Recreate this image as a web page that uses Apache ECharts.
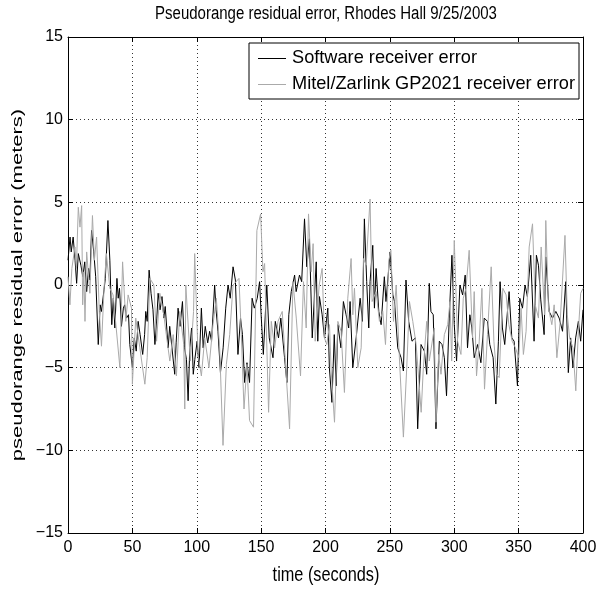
<!DOCTYPE html>
<html>
<head>
<meta charset="utf-8">
<script src="https://cdn.jsdelivr.net/npm/echarts@6/dist/echarts.min.js"></script>
<style>html,body{margin:0;padding:0;background:#fff}#c{width:596px;height:591px}</style>
</head>
<body>
<div id="c"></div>
<script>
var titleText = 'Pseudorange residual error, Rhodes Hall 9/25/2003';
var xName = 'time (seconds)';
var yName = 'pseudorange residual error (meters)';
var seriesNames = ['Software receiver error', 'Mitel/Zarlink GP2021 receiver error'];
var xTicks = [0, 50, 100, 150, 200, 250, 300, 350, 400];
var yTicks = [-15, -10, -5, 0, 5, 10, 15];

var swTime = [0,1.6,2.5,4,5.5,6.7,8,10,11.5,13,14.5,16,17,18.3,20,21.5,23.5,25,26,27.5,29,31,32.5,34,35.2,36.4,38,39,40,41.5,43,44,45.5,47,48,50,51.5,53,54.5,56,58,59.5,60.4,61.5,63,64.5,66,67.5,69,70,71.5,73,74.5,75.5,77.8,79,80.5,82.9,84,85.5,87,88.9,90.5,92,93.3,94.6,96,97.3,98.5,100.3,101.8,103.6,105,106.6,108.5,110,111.5,113.9,115,116.5,118.4,120.5,122.5,124.3,126,128.2,130,132,134,135.5,137.2,139,141,143,144.7,147,148.8,150,151.7,154.4,156.3,159.2,161,163.5,165.3,168.2,170,171.5,173.4,176,177.2,179.8,181.5,183.7,185.5,187.5,189.7,192.8,194,195.3,197.4,199.2,201.8,203,205,206.8,208.3,209.6,212,213.9,216,218,219.1,221.2,223.8,226.9,228.7,230.2,232,233.6,234.6,236.7,238,239.3,241.4,243.2,245.7,247,250.2,252.3,253.6,256.1,258.7,260.5,262.5,264.6,267.2,269.8,271.6,274.2,276.8,278.6,280.6,281.9,283.7,285.8,288.4,290.5,292.3,294,296.1,298.2,300,301.8,304.4,306.5,308.5,310.3,312.1,313.7,315.5,318.1,320.7,323.3,325.8,327.6,330.2,332.3,334.3,335.6,337.4,339.2,342.6,344.7,346.5,349.1,350.9,353,355,356.8,359.4,362,363.8,365.4,367.2,369.8,371.1,373.7,376.3,378.9,381.5,384.1,386.6,388.6,390.4,392.2,394.3,396.4,398.2,400];
var swError = [1.5,2.9,2.0,2.9,1.5,0.1,1.9,1.2,0.5,1.4,-0.4,1.0,0.3,3.3,2.0,0.5,-3.6,-1.2,-1.6,-0.6,0.4,3.9,1.5,-2.4,-0.8,-2.6,0.4,-0.8,-0.2,-2.5,-1.4,-1.2,-2.0,-1.8,-3.6,-5.0,-3.2,-4.0,-2.2,-3.0,-4.2,-3.0,-1.6,-2.2,0.9,-0.5,-1.5,-3.6,-2.0,-0.5,-1.5,-0.7,-2.0,-1.3,-3.8,-2.5,-2.4,-5.4,-3.5,-1.4,-2.5,-1.0,-3.8,-4.5,-7.0,-3.8,-2.6,-5.4,-4.5,-3.4,-5.0,-1.4,-3.8,-2.5,-3.5,-2.8,-3.4,0.0,-1.5,-2.8,-5.3,-3.8,-1.4,0.0,-0.8,1.1,0.3,-4.2,-2.0,-3.0,-5.9,-4.7,-5.9,-0.8,-1.4,-0.8,0.2,-1.8,-4.2,0.0,-3.2,-4.4,-2.2,-3.2,-2.0,-4.4,-5.9,-1.8,-0.4,0.6,-0.4,0.6,0.2,4.0,1.1,2.8,-3.2,1.4,-3.4,-0.7,-1.8,-3.2,-1.4,-5.0,-7.1,-3.0,-6.1,-2.4,-3.8,-1.0,-1.8,-2.6,-1.0,-5.0,-3.2,-0.8,-2.2,4.0,0.2,-2.6,0.2,2.4,-1.4,1.0,-1.6,-2.4,0.5,-1.0,2.0,-0.6,-1.0,-3.8,-4.4,-5.2,0.3,-2.2,-3.4,-3.2,-8.7,-3.6,-4.0,-5.4,0.1,-1.6,-1.8,-8.7,-3.4,-3.6,-4.4,-6.7,-2.0,1.8,-2.4,-4.6,0.0,-0.6,0.6,-3.8,-1.8,-2.6,-4.4,-3.6,-4.7,-2.0,-2.2,-3.6,-4.4,-7.2,-3.4,0.2,-2.6,-3.6,-0.4,-3.2,-3.4,-6.1,-0.8,-1.4,0.0,-0.7,1.8,-3.4,1.8,1.2,-0.9,-3.0,1.7,-1.6,-2.0,-1.6,-2.0,-2.8,0.2,-5.3,-3.2,-5.0,-3.2,-2.2,-3.4,-1.5];

var gpTime = [0,1.5,3,5.4,6.5,8,9.3,10.6,11.4,12.3,13.2,14.5,16,17,19,20.5,22.2,24.3,26,28,29.8,32.5,35,37.2,40.3,42.4,44.9,46.7,49.3,50,52.6,55.8,59.7,61.5,63.6,66.7,68.8,71.3,74.4,76,79.1,81.7,84.2,86.8,89.9,90.7,91.5,95,97.5,98.4,101,103.6,106.2,109.5,112.6,115.2,117.8,120.4,123,125.6,128.2,132.8,134.6,136.7,139,141,144.1,146.7,149.6,151.4,152.7,155.8,157.9,160.5,163.1,166.4,172.1,174.7,177.3,180.6,182.9,185,186.8,188.9,190.4,192,195.1,197.4,199.2,201,203.1,204.4,207,209.6,212.1,214.7,217.3,219.9,221.2,222.5,225.1,227.7,229.5,231.6,234.6,236.2,239.3,241.9,244.5,246.6,249.2,250.8,252.8,254.9,257.5,260.5,263.1,265.2,267.8,270.4,273,274.3,276,278.6,280.6,284.5,285.8,287.9,289.7,292.3,294.9,296.7,298,300,302.6,305.2,307,309.1,311.6,314.2,315.5,317.3,319.4,321.5,323.5,325.8,328.7,330.8,332.8,334.9,337.7,340.3,342.4,345,347.5,350.1,351.9,353.7,355.8,358.2,360.8,362.9,365.4,367.5,370.2,371.1,373.2,375.8,377.6,379.7,382.3,386,387.8,389.6,392.2,394.4,396.4,398.2,400];
var gpError = [0.5,-1.2,1.0,2.3,1.0,4.7,3.5,4.8,-1.2,0.8,-2.2,2.0,0.5,-0.5,4.2,1.5,2.9,-1.6,-3.7,-0.2,1.9,-0.2,-0.6,-2.4,-5.0,1.4,-2.2,-0.6,-1.4,-6.0,-2.0,-3.8,-6.0,-4.4,0.4,0.0,-3.4,-0.5,-1.8,-2.8,-4.6,-3.0,-5.5,-1.6,-3.6,-7.5,0.0,-4.6,-1.6,1.9,-4.2,-5.5,-3.2,-5.0,-2.4,-0.8,-3.8,-9.7,-4.8,-3.0,0.0,0.4,-3.0,-7.5,-4.8,-8.2,-8.6,3.3,4.3,0.8,1.3,-7.7,-2.2,-3.8,-2.2,-1.6,-8.7,0.2,-2.0,-5.5,0.2,-2.6,4.3,0.8,2.5,-3.4,0.0,1.0,-3.2,-3.6,-2.4,-5.2,-8.3,-2.2,-2.8,-6.5,-0.8,1.6,-1.8,-0.2,-5.0,-3.8,1.6,1.2,5.2,-1.0,-0.4,-2.2,-1.6,-3.6,1.5,2.1,-2.2,0.0,-4.6,-9.2,-5.0,-1.0,-2.2,-3.6,-6.3,-7.7,-5.0,-2.2,-4.6,-2.6,-8.3,-4.2,-5.4,-3.0,-2.4,-1.0,-4.6,2.7,-3.4,-4.2,-0.8,-0.2,2.1,-3.2,-0.4,-5.5,-3.4,-0.2,-6.3,-3.0,1.1,-3.4,-5.4,-5.6,-0.2,-0.6,-2.4,-3.4,-3.8,-4.4,-1.4,-4.2,-2.8,2.3,3.7,-1.2,-2.0,2.3,-1.8,3.9,-1.4,-2.4,-1.2,-4.4,-2.2,3.0,-1.8,-3.2,-3.8,-6.4,-2.8,-0.5,-0.2];

function pairs(t, v) { return t.map(function (x, i) { return [x, v[i]]; }); }
function fmt(v) { return String(v).replace('-', '\u2212'); }

var FONT = 'Liberation Sans';
var LINE_ICON = 'path://M0,-7L0.001,-7M0,7L0.001,7M0,0L28,0L28,1L0,1Z';
var chart = echarts.init(document.getElementById('c'), null, { renderer: 'canvas' });

var gridLine = { show: true, lineStyle: { color: '#333', type: [1, 3], width: 1 } };
var baseX = {
  type: 'value', min: xTicks[0], max: xTicks[xTicks.length - 1], interval: 50,
  axisLine: { show: true, onZero: false, lineStyle: { color: '#000', width: 1 } },
  axisTick: { show: true, inside: true, length: 5, lineStyle: { color: '#000' } }
};
var baseY = {
  type: 'value', min: yTicks[0], max: yTicks[yTicks.length - 1], interval: 5,
  axisLine: { show: true, onZero: false, lineStyle: { color: '#000', width: 1 } },
  axisTick: { show: true, inside: true, length: 5, lineStyle: { color: '#000' } }
};

chart.setOption({
  animation: false,
  backgroundColor: '#fff',
  textStyle: { fontFamily: FONT },
  grid: { left: 68, right: 13, top: 37, bottom: 58, show: false, outerBoundsMode: 'none', containLabel: false },
  legend: {
    orient: 'vertical', left: 249, top: 43,
    data: [
      { name: seriesNames[0], icon: LINE_ICON, itemStyle: { color: '#000' } },
      { name: seriesNames[1], icon: LINE_ICON, itemStyle: { color: '#aaa' } }
    ],
    backgroundColor: '#fff', borderColor: '#000', borderWidth: 1,
    padding: [6, 4, 6, 9], itemGap: 8, itemWidth: 28, itemHeight: 14,
    textStyle: { fontFamily: FONT, fontSize: 18.2, color: '#000', padding: [0, 0, 0, 1] }
  },
  graphic: [
    {
      type: 'text', x: 326, y: 14, scaleY: 1.2,
      style: { text: titleText, fill: '#000', font: '15px "Liberation Sans"', align: 'center', verticalAlign: 'middle' }
    },
    {
      type: 'text', x: 326, y: 575, scaleY: 1.25,
      style: { text: xName, fill: '#000', font: '16.3px "Liberation Sans"', align: 'center', verticalAlign: 'middle' }
    },
    {
      type: 'text', x: 18, y: 285, rotation: Math.PI / 2, scaleX: 1.42,
      style: { text: yName, fill: '#000', font: '15.5px "Liberation Sans"', align: 'center', verticalAlign: 'middle' }
    }
  ],
  xAxis: [
    Object.assign({}, baseX, {
      position: 'bottom',
      axisLabel: { color: '#000', fontSize: 16, fontFamily: FONT, margin: 7, formatter: fmt },
      splitLine: gridLine
    }),
    Object.assign({}, baseX, { position: 'top', axisLabel: { show: false }, splitLine: { show: false } })
  ],
  yAxis: [
    Object.assign({}, baseY, {
      position: 'left',
      axisLabel: { color: '#000', fontSize: 16, fontFamily: FONT, margin: 5, formatter: fmt },
      splitLine: gridLine
    }),
    Object.assign({}, baseY, { position: 'right', axisLabel: { show: false }, splitLine: { show: false } })
  ],
  series: [
    {
      name: seriesNames[0], type: 'line', xAxisIndex: 0, yAxisIndex: 0,
      data: pairs(swTime, swError), symbol: 'none', showSymbol: false,
      lineStyle: { color: '#000', width: 1 }, itemStyle: { color: '#000' }
    },
    {
      name: seriesNames[1], type: 'line', xAxisIndex: 0, yAxisIndex: 0,
      data: pairs(gpTime, gpError), symbol: 'none', showSymbol: false,
      lineStyle: { color: '#aaa', width: 1 }, itemStyle: { color: '#aaa' }
    }
  ]
});
</script>
</body>
</html>
